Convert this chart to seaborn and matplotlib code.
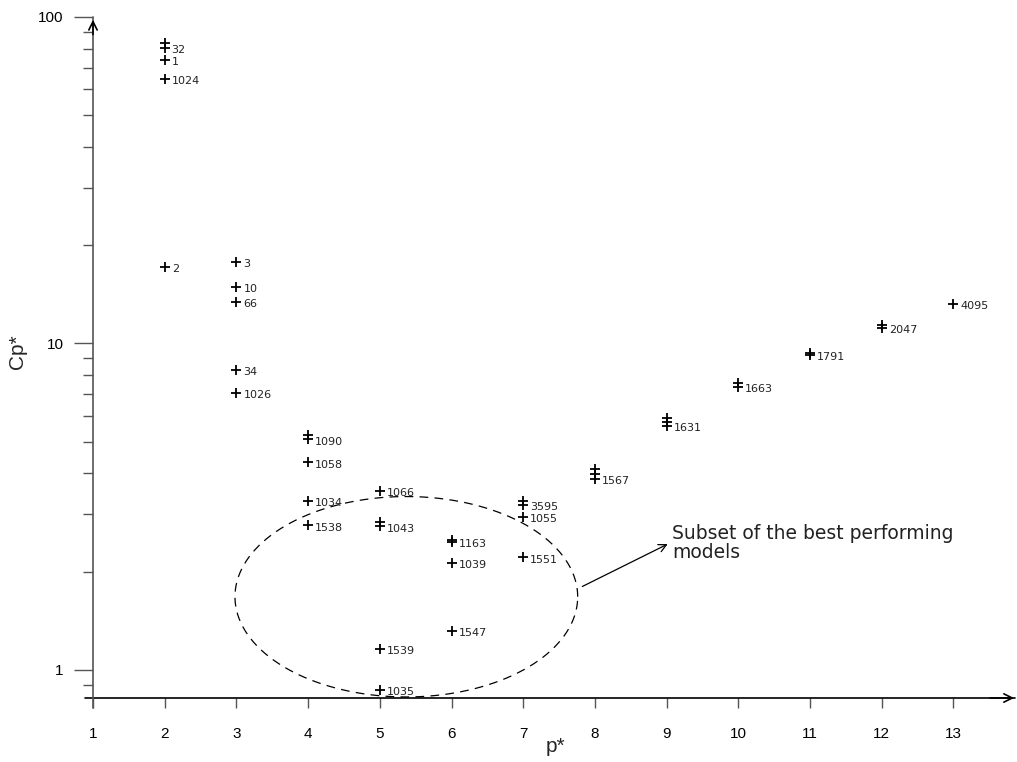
"""
Cp* vs p* for the candidate models (log scale), with the subset of
best performing models circled.
"""

import numpy as np
import pandas as pd
import seaborn as sns
import matplotlib.pyplot as plt
from matplotlib.ticker import NullFormatter, FixedLocator

sns.set_style('ticks')
plt.rcParams['font.family'] = ['Liberation Sans', 'DejaVu Sans']

# Data

p_star = [2, 2, 2, 2, 2,
          3, 3, 3, 3, 3,
          4, 4, 4, 4, 4,
          5, 5, 5, 5, 5,
          6, 6, 6, 6,
          7, 7, 7, 7,
          8, 8, 8,
          9, 9, 9,
          10, 10,
          11, 11,
          12, 12,
          13]

cp_star = [83.2, 80.3, 73.8, 64.5, 17.2,
           17.8, 14.9, 13.4, 8.32, 7.03,
           5.26, 5.08, 4.32, 3.30, 2.77,
           3.54, 2.84, 2.75, 1.16, 0.87,
           2.50, 2.46, 2.13, 1.32,
           3.30, 3.21, 2.94, 2.21,
           4.12, 3.98, 3.85,
           5.93, 5.76, 5.60,
           7.55, 7.38,
           9.35, 9.19,
           11.35, 11.15,
           13.2]

model_ids = ['', '32', '1', '1024', '2',
             '3', '10', '66', '34', '1026',
             '', '1090', '1058', '1034', '1538',
             '1066', '', '1043', '1539', '1035',
             '', '1163', '1039', '1547',
             '', '3595', '1055', '1551',
             '', '', '1567',
             '', '', '1631',
             '', '1663',
             '', '1791',
             '', '2047',
             '4095']

x_ticks = list(range(1, 14))
y_ticks = [1, 10, 100]
y_minor = [0.9, 2, 3, 4, 5, 6, 7, 8, 9, 20, 30, 40, 50, 60, 70, 80, 90]

# Ellipse around the best subset (centre / half widths, p* and log10 Cp*)
ell_cx, ell_a = 5.37, 2.39
ell_cy, ell_b = 0.224, 0.307

# Arrow from the ellipse to the note
arrow_from = (7.79, 1.785)
arrow_to = (9.05, 2.45)
note = 'Subset of the best performing\nmodels'

df = pd.DataFrame({'p': p_star, 'cp': cp_star, 'model': model_ids})

# Create plot

fig = plt.figure(figsize=(10.17, 7.62), dpi=100)
ax = fig.add_axes([93 / 1017, 1 - 698 / 762, (1015 - 93) / 1017, (698 - 17) / 762])

sns.scatterplot(data=df, x='p', y='cp', marker='+', s=60, color='black',
                linewidth=1.3, ax=ax, legend=False)

for _, r in df[df['model'] != ''].iterrows():
    ax.annotate(r['model'], (r['p'], r['cp']), xytext=(5, -1.5),
                textcoords='offset points', fontsize=8, va='center',
                family='DejaVu Sans', color='#222222')

# Dashed ellipse
t = np.linspace(0, 2 * np.pi, 300)
ax.plot(ell_cx + ell_a * np.cos(t), 10 ** (ell_cy + ell_b * np.sin(t)),
        color='black', lw=0.9, dashes=(7, 5))

ax.annotate('', xy=arrow_to, xytext=arrow_from,
            arrowprops=dict(arrowstyle='->', color='black', lw=0.9,
                            mutation_scale=14))
ax.text(arrow_to[0] + 0.03, arrow_to[1], note, fontsize=13.5, va='center',
        ha='left', family='DejaVu Sans', color='#222222', linespacing=1.0)

# Format axes

ax.set_yscale('log')
ax.set_xlim(1, 1 + (1015 - 93) / 71.7)
ax.set_ylim(0.82, 100)

ax.xaxis.set_major_locator(FixedLocator(x_ticks))
ax.set_xticklabels([str(v) for v in x_ticks])
ax.yaxis.set_major_locator(FixedLocator(y_ticks))
ax.set_yticklabels([str(v) for v in y_ticks])
ax.yaxis.set_minor_locator(FixedLocator(y_minor))
ax.yaxis.set_minor_formatter(NullFormatter())

ax.tick_params(axis='y', which='major', length=14, width=1, pad=7,
               labelsize=11, colors='#555555', labelcolor='black')
ax.tick_params(axis='y', which='minor', length=7, width=1, colors='#555555')
ax.tick_params(axis='x', which='major', length=7, width=1, pad=14,
               labelsize=11, colors='#555555', labelcolor='black')

ax.set_xlabel('p*', fontsize=15)
ax.set_ylabel('Cp*', fontsize=15)
ax.xaxis.set_label_coords(0.502, -0.057)
ax.yaxis.set_label_coords(-0.0716, 0.508)

# Axis lines with arrow heads
for s in ax.spines.values():
    s.set_visible(False)
ax.plot([-0.009, 1], [0, 0], transform=ax.transAxes, color='black', lw=1.2,
        clip_on=False)
ax.plot([0, 0], [-0.015, 1], transform=ax.transAxes, color='#555555', lw=1.2,
        clip_on=False)
ax.annotate('', xy=(0, 1), xytext=(0, 0.97), xycoords='axes fraction',
            arrowprops=dict(arrowstyle='->', color='black', lw=1.2,
                            mutation_scale=15))
ax.annotate('', xy=(1.002, 0), xytext=(0.97, 0), xycoords='axes fraction',
            arrowprops=dict(arrowstyle='->', color='black', lw=1.2,
                            mutation_scale=15))

plt.savefig('out.png', dpi=100)
